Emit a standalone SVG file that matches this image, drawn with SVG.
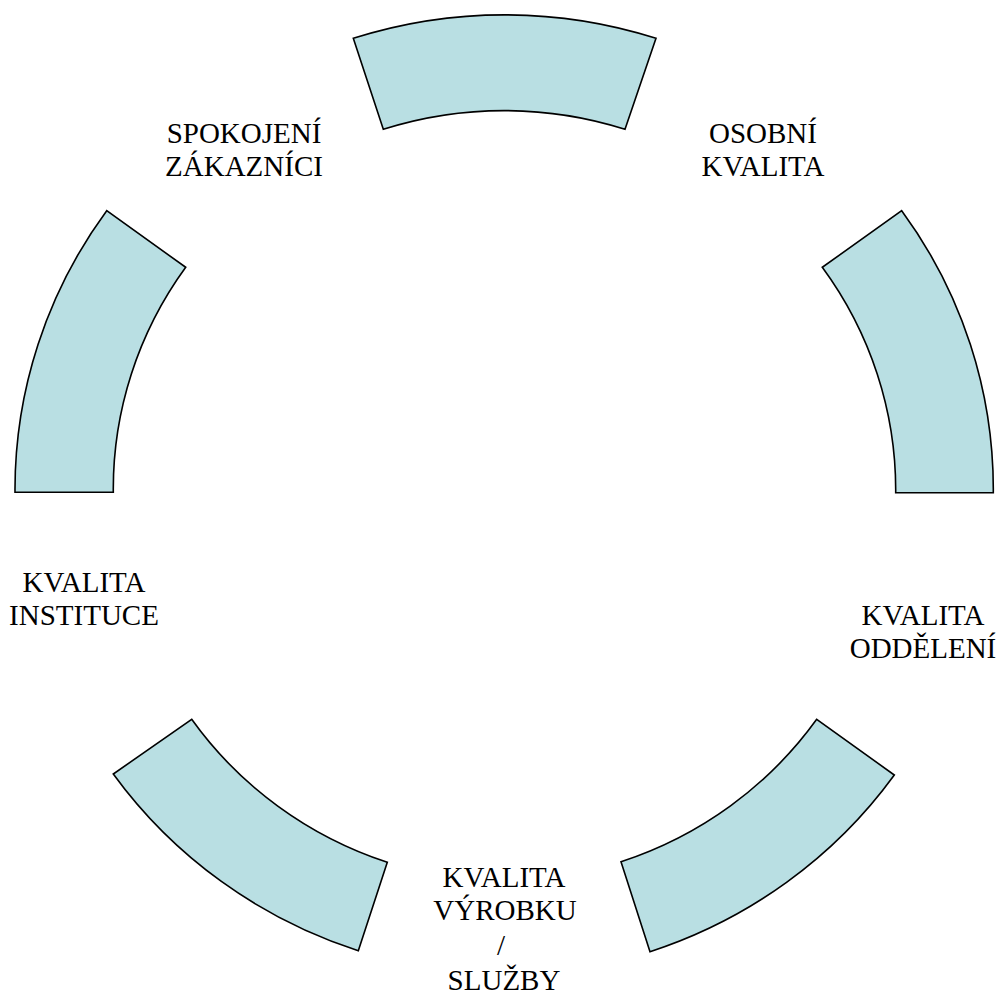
<svg xmlns="http://www.w3.org/2000/svg" width="1000" height="994" viewBox="0 0 1000 994">
<style>
.seg{fill:#B9DFE3;stroke:#000;stroke-width:1.6;stroke-linejoin:miter}
.lbl{font-family:"Liberation Serif","Times New Roman",serif;font-size:29px;fill:#000;text-anchor:middle}
</style>
<rect width="1000" height="994" fill="#fff"/>
<g id="seg-top"><path class="seg" d="M353.3,38.3 A489,478 0 0 1 656,38.3 L625,129.3 A391,382 0 0 0 383.3,129.3 Z"/></g>
<g id="seg-right"><path class="seg" d="M901.7,210.7 A489,478 0 0 1 993.3,492.7 L895.7,492.7 A391,382 0 0 0 822.3,267.3 Z"/></g>
<g id="seg-bottom-right"><path class="seg" d="M894.3,775 A489,478 0 0 1 650,951.7 L621,861.7 A391,382 0 0 0 816.7,719.3 Z"/></g>
<g id="seg-bottom-left"><path class="seg" d="M358.3,950.7 A489,478 0 0 1 113.3,774 L191.7,719.3 A391,382 0 0 0 387.3,862.3 Z"/></g>
<g id="seg-left"><path class="seg" d="M15,492.3 A489,478 0 0 1 106.7,210.7 L185.7,267.3 A391,382 0 0 0 113.3,492.3 Z"/></g>
<g id="connectors"></g>
<g id="label-spokojeni"><text class="lbl" x="244" y="143">SPOKOJENÍ</text><text class="lbl" x="244" y="176">ZÁKAZNÍCI</text></g>
<g id="label-osobni"><text class="lbl" x="763" y="143">OSOBNÍ</text><text class="lbl" x="763" y="176">KVALITA</text></g>
<g id="label-oddeleni"><text class="lbl" x="923" y="625">KVALITA</text><text class="lbl" x="923" y="658">ODDĚLENÍ</text></g>
<g id="label-instituce"><text class="lbl" x="84" y="592">KVALITA</text><text class="lbl" x="84" y="625">INSTITUCE</text></g>
<g id="label-vyrobku"><text class="lbl" x="504" y="887">KVALITA</text><text class="lbl" x="505" y="920">VÝROBKU</text><text class="lbl" x="501" y="955">/</text><text class="lbl" x="504" y="990">SLUŽBY</text></g>
</svg>
